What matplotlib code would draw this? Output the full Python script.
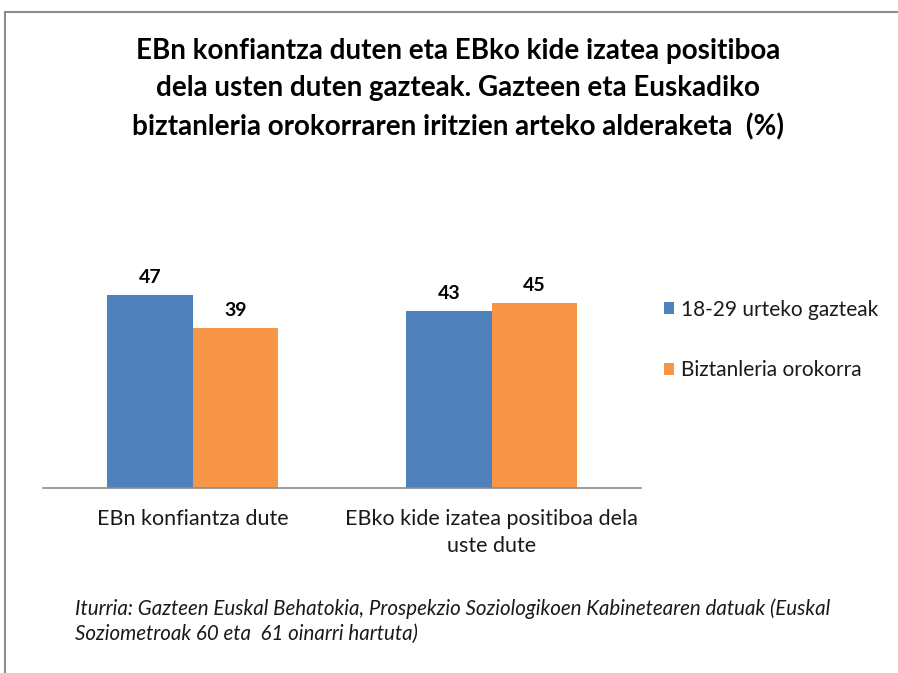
import matplotlib
matplotlib.use("Agg")
import matplotlib.pyplot as plt
from matplotlib.patches import Rectangle
import numpy as np

categories = ["EBn konfiantza dute", "EBko kide izatea positiboa dela\nuste dute"]
series_names = ["18-29 urteko gazteak", "Biztanleria orokorra"]
gazteak = [47, 43]
orokorra = [39, 45]
colors = ["#4F81BD", "#F79646"]
title = ("EBn konfiantza duten eta EBko kide izatea positiboa\n"
         "dela usten duten gazteak. Gazteen eta Euskadiko\n"
         "biztanleria orokorraren iritzien arteko alderaketa  (%)")
source = ("Iturria: Gazteen Euskal Behatokia, Prospekzio Soziologikoen Kabinetearen datuak (Euskal\n"
          "Soziometroak 60 eta  61 oinarri hartuta)")

plt.rcParams['font.family'] = ['Lato', 'DejaVu Sans']

W, H = 898, 673
fig = plt.figure(figsize=(W/100, H/100), dpi=100)
fig.patch.set_facecolor("white")

# outer frame
fig.add_artist(Rectangle((5/W, -0.1), 1.2, 1 - 12/H + 0.1, transform=fig.transFigure,
                         fill=False, edgecolor="#8c8c8c", linewidth=1.5))

ax = fig.add_axes([43/W, (H-488)/H, 598/W, 205.5/H])
x = np.arange(len(categories))
w = 0.285
b1 = ax.bar(x - w/2, gazteak, w, color=colors[0], label=series_names[0])
b2 = ax.bar(x + w/2, orokorra, w, color=colors[1], label=series_names[1])
ax.set_xlim(-0.5, 1.5)
ax.set_ylim(0, 50)
for bars in (b1, b2):
    for r in bars:
        ax.text(r.get_x() + r.get_width()/2, r.get_height() + 2.2, f"{r.get_height():.0f}",
                ha="center", va="bottom", fontsize=14, fontweight="bold", color="black",
                clip_on=False)
for s in ["top", "right", "left"]:
    ax.spines[s].set_visible(False)
ax.spines["bottom"].set_color("#8c8c8c")
ax.spines["bottom"].set_linewidth(1.2)
ax.set_yticks([])
ax.set_xticks(x)
ax.set_xticklabels(categories, fontsize=15.5, color="#1a1a1a", linespacing=1.45)
ax.tick_params(axis="x", length=0, pad=15)

leg = fig.legend(handles=[b1, b2], labels=series_names, loc="upper left",
                 bbox_to_anchor=(645/W, 1 - 281/H), frameon=False, fontsize=15,
                 handlelength=0.5, handleheight=0.5, handletextpad=0.35,
                 labelspacing=1.95)
for t in leg.get_texts():
    t.set_color("#1a1a1a")

fig.text(458/W, 1 - 89/H, title, ha="center", va="center", fontsize=20,
         fontweight="bold", linespacing=1.55, color="black")
fig.text(75/W, 1 - 621/H, source, ha="left", va="center", fontsize=14.8,
         style="italic", linespacing=1.3, color="#1a1a1a")

fig.savefig("out.png", dpi=100, facecolor="white")
